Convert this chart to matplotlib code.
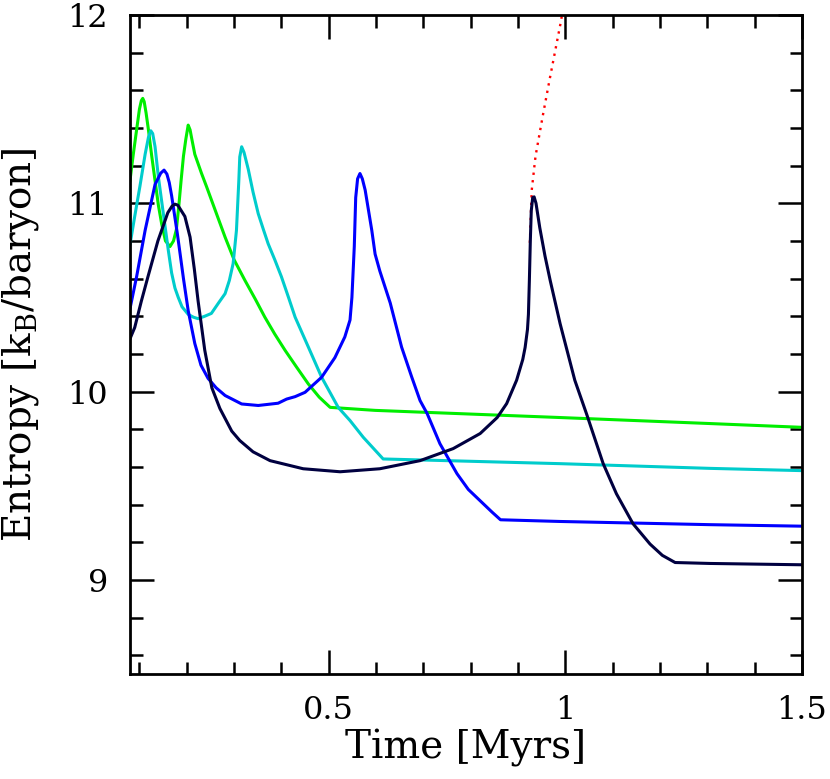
import matplotlib
matplotlib.use("Agg")
import matplotlib.pyplot as plt
from matplotlib.ticker import MultipleLocator, FormatStrFormatter

plt.rcParams['font.family'] = ['DejaVu Serif']
plt.rcParams['mathtext.fontset'] = 'dejavuserif'

# 绿色曲线
t_green = [0.08, 0.087, 0.094, 0.1, 0.104, 0.107, 0.11, 0.114, 0.119, 0.126, 0.133,
           0.14, 0.147, 0.155, 0.1645, 0.172, 0.178, 0.183, 0.188, 0.193, 0.198, 0.203,
           0.207, 0.21, 0.217, 0.231, 0.242, 0.262, 0.281, 0.3, 0.323, 0.345, 0.365,
           0.386, 0.408, 0.432, 0.457, 0.48, 0.503, 0.598, 0.989, 1.306, 1.5]
s_green = [11.12, 11.26, 11.39, 11.5, 11.545, 11.557, 11.54, 11.48, 11.39, 11.25, 11.12,
           10.99, 10.89, 10.8, 10.77, 10.8, 10.86, 10.98, 11.12, 11.25, 11.34, 11.415,
           11.39, 11.35, 11.26, 11.16, 11.087, 10.95, 10.82, 10.7, 10.59, 10.49, 10.395,
           10.305, 10.218, 10.13, 10.04, 9.97, 9.916, 9.9, 9.862, 9.83, 9.81]

# 青色曲线
t_cyan = [0.08, 0.09, 0.101, 0.112, 0.119, 0.124, 0.128, 0.133, 0.14, 0.147, 0.154,
          0.161, 0.168, 0.175, 0.182, 0.19, 0.203, 0.214, 0.224, 0.238, 0.252, 0.267,
          0.281, 0.29, 0.298, 0.305, 0.31, 0.312, 0.316, 0.321, 0.33, 0.34, 0.351,
          0.362, 0.372, 0.386, 0.4, 0.415, 0.429, 0.457, 0.485, 0.52, 0.545, 0.573,
          0.615, 0.989, 1.306, 1.5]
s_cyan = [10.78, 10.93, 11.09, 11.26, 11.35, 11.385, 11.37, 11.3, 11.14, 11.01, 10.88,
          10.75, 10.63, 10.55, 10.5, 10.45, 10.41, 10.395, 10.387, 10.4, 10.415, 10.47,
          10.52, 10.59, 10.68, 10.856, 11.12, 11.246, 11.3, 11.27, 11.18, 11.06, 10.945,
          10.86, 10.785, 10.7, 10.61, 10.5, 10.395, 10.236, 10.076, 9.916, 9.846, 9.757,
          9.642, 9.617, 9.592, 9.58]

# 蓝色曲线
t_blue = [0.08, 0.094, 0.112, 0.133, 0.145, 0.152, 0.158, 0.163, 0.168, 0.174, 0.18,
          0.186, 0.193, 0.203, 0.217, 0.23, 0.245, 0.262, 0.281, 0.316, 0.351, 0.393,
          0.411, 0.429, 0.45, 0.485, 0.513, 0.534, 0.545, 0.549, 0.554, 0.557, 0.561,
          0.566, 0.571, 0.577, 0.591, 0.598, 0.608, 0.63, 0.654, 0.675, 0.693, 0.708,
          0.735, 0.771, 0.795, 0.82, 0.845, 0.863, 0.989, 1.306, 1.5]
s_blue = [10.44, 10.61, 10.856, 11.1, 11.16, 11.176, 11.155, 11.11, 11.04, 10.94, 10.84,
          10.73, 10.6, 10.43, 10.255, 10.14, 10.07, 10.02, 9.979, 9.934, 9.926, 9.938,
          9.96, 9.973, 9.996, 10.076, 10.18, 10.29, 10.38, 10.5, 10.77, 11.03, 11.13,
          11.158, 11.13, 11.07, 10.856, 10.73, 10.64, 10.47, 10.236, 10.08, 9.952, 9.883,
          9.723, 9.564, 9.48, 9.42, 9.36, 9.319, 9.31, 9.293, 9.285]

# 深蓝色曲线
t_navy = [0.08, 0.09, 0.104, 0.118, 0.139, 0.16, 0.169, 0.175, 0.181, 0.186, 0.196,
          0.207, 0.216, 0.224, 0.238, 0.253, 0.27, 0.295, 0.312, 0.34, 0.376, 0.446,
          0.524, 0.608, 0.693, 0.763, 0.82, 0.856, 0.876, 0.897, 0.91, 0.915, 0.92,
          0.922, 0.924, 0.926, 0.928, 0.931, 0.934, 0.938, 0.946, 0.957, 0.968, 0.989,
          1.02, 1.045, 1.08, 1.108, 1.143, 1.179, 1.205, 1.232, 1.306, 1.5]
s_navy = [10.28, 10.34, 10.48, 10.61, 10.8, 10.95, 10.985, 10.995, 10.99, 10.97, 10.93,
          10.82, 10.65, 10.48, 10.22, 10.02, 9.91, 9.79, 9.74, 9.68, 9.633, 9.59,
          9.574, 9.59, 9.633, 9.697, 9.777, 9.862, 9.936, 10.06, 10.17, 10.234, 10.33,
          10.41, 10.59, 10.8, 10.96, 11.03, 11.034, 11.0, 10.87, 10.72, 10.59, 10.36,
          10.06, 9.88, 9.617, 9.457, 9.298, 9.19, 9.13, 9.092, 9.087, 9.08]

# 红色点线
t_red = [0.925, 0.929, 0.937, 0.952, 0.967, 0.991, 0.996]
s_red = [10.79, 11.07, 11.25, 11.46, 11.66, 11.97, 12.05]

fig = plt.figure(figsize=(8.3, 7.79), dpi=100)
ax = fig.add_axes([0.1566, 0.1348, 0.8096, 0.846])

ax.plot(t_red, s_red, color='#ff0000', linewidth=1.7, linestyle=(0, (1, 2.2)))
ax.plot(t_green, s_green, color='#00ee00', linewidth=2.2)
ax.plot(t_cyan, s_cyan, color='#00cccc', linewidth=2.2)
ax.plot(t_blue, s_blue, color='#0000ff', linewidth=2.2)
ax.plot(t_navy, s_navy, color='#000040', linewidth=2.2)

ax.set_xlim(0.08, 1.5)
ax.set_ylim(8.5, 12)

ax.xaxis.set_major_locator(MultipleLocator(0.5))
ax.xaxis.set_minor_locator(MultipleLocator(0.1))
ax.yaxis.set_major_locator(MultipleLocator(1))
ax.yaxis.set_minor_locator(MultipleLocator(0.2))
ax.xaxis.set_major_formatter(FormatStrFormatter('%g'))
ax.yaxis.set_major_formatter(FormatStrFormatter('%g'))

ax.tick_params(which='both', direction='in', top=True, right=True, width=1.8)
ax.tick_params(which='major', length=17)
ax.tick_params(which='minor', length=9)
ax.tick_params(axis='x', which='major', labelsize=23, pad=15)
ax.tick_params(axis='y', which='major', labelsize=23, pad=16)
for sp in ax.spines.values():
    sp.set_linewidth(2)

ax.set_xlabel("Time [Myrs]", fontsize=28, labelpad=2)
ax.set_ylabel(r"Entropy [$\mathrm{k_B}$/baryon]", fontsize=28)
ax.yaxis.set_label_coords(-0.133, 0.5)

fig.savefig("out.png", dpi=100)
